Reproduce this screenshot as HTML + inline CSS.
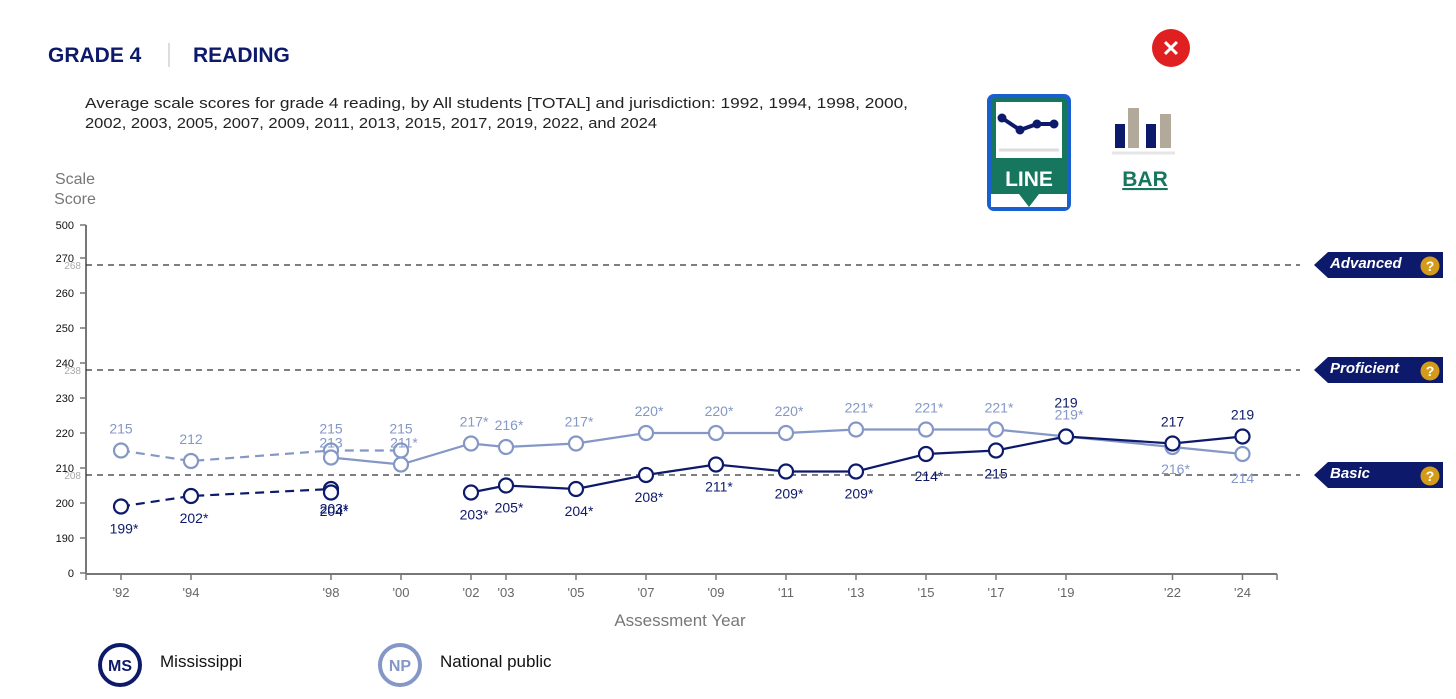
<!DOCTYPE html>
<html><head><meta charset="utf-8">
<style>
body{margin:0;width:1456px;height:699px;background:#fff;overflow:hidden;font-family:"Liberation Sans",sans-serif;}
svg{position:absolute;left:0;top:0}
</style></head>
<body>
<svg id="c" width="1456" height="699">
<text x="48" y="62" font-size="21" font-weight="bold" fill="#0d1a6b">GRADE 4</text>
<line x1="169" y1="43" x2="169" y2="67" stroke="#ddd" stroke-width="2"/>
<text x="193" y="62" font-size="21" font-weight="bold" fill="#0d1a6b">READING</text>
<text x="85" y="108" font-size="15" fill="#222" textLength="823" lengthAdjust="spacingAndGlyphs">Average scale scores for grade 4 reading, by All students [TOTAL] and jurisdiction: 1992, 1994, 1998, 2000,</text>
<text x="85" y="128" font-size="15" fill="#222" textLength="572" lengthAdjust="spacingAndGlyphs">2002, 2003, 2005, 2007, 2009, 2011, 2013, 2015, 2017, 2019, 2022, and 2024</text>
<g><circle cx="1171" cy="48" r="19" fill="#e02020"/><text x="1171" y="56" font-size="22" font-weight="bold" fill="#fff" text-anchor="middle">✕</text></g>
<g>
<rect x="987" y="94" width="84" height="117" rx="7" fill="#1a5fd0"/>
<rect x="991" y="98" width="76" height="109" rx="4" fill="#17765e"/>
<rect x="996" y="102" width="66" height="56" fill="#fff"/>
<line x1="999" y1="150" x2="1059" y2="150" stroke="#ddd" stroke-width="3"/>
<polyline points="1002,118 1020,130 1037,124 1054,124" fill="none" stroke="#0d1a6b" stroke-width="4"/>
<circle cx="1002" cy="118" r="4.5" fill="#0d1a6b"/><circle cx="1020" cy="130" r="4.5" fill="#0d1a6b"/><circle cx="1037" cy="124" r="4.5" fill="#0d1a6b"/><circle cx="1054" cy="124" r="4.5" fill="#0d1a6b"/>
<text x="1029" y="186" font-size="21" font-weight="bold" fill="#fff" text-anchor="middle">LINE</text>
<rect x="991" y="194" width="76" height="13" fill="#fff"/>
<polygon points="1019,194 1039,194 1029,207" fill="#17765e"/>
</g>
<g>
<rect x="1115" y="124" width="10" height="24" fill="#0d1a6b"/><rect x="1128" y="108" width="11" height="40" fill="#b3a99a"/>
<rect x="1146" y="124" width="10" height="24" fill="#0d1a6b"/><rect x="1160" y="114" width="11" height="34" fill="#b3a99a"/>
<line x1="1112" y1="153" x2="1175" y2="153" stroke="#e6e6e6" stroke-width="3"/>
<text x="1145" y="186" font-size="21" font-weight="bold" fill="#17765e" text-anchor="middle" text-decoration="underline">BAR</text>
</g>
<text x="75" y="184" font-size="16" fill="#777" text-anchor="middle">Scale</text>
<text x="75" y="204" font-size="16" fill="#777" text-anchor="middle">Score</text>
<text x="680" y="626" font-size="17" fill="#777" text-anchor="middle">Assessment Year</text>
<g><circle cx="120" cy="665" r="20" fill="#fff" stroke="#0d1a6b" stroke-width="4"/><text x="120" y="671" font-size="16" font-weight="bold" fill="#0d1a6b" text-anchor="middle">MS</text><text x="160" y="667" font-size="17" fill="#111">Mississippi</text></g>
<g><circle cx="400" cy="665" r="20" fill="#fff" stroke="#8497c6" stroke-width="4"/><text x="400" y="671" font-size="16" font-weight="bold" fill="#8497c6" text-anchor="middle">NP</text><text x="440" y="667" font-size="17" fill="#111">National public</text></g>
<g id="plot"></g>
</svg>
<script>
const years=[1992,1994,1998,2000,2002,2003,2005,2007,2009,2011,2013,2015,2017,2019,2022,2024];
const tickLabels=["'92","'94","'98","'00","'02","'03","'05","'07","'09","'11","'13","'15","'17","'19","'22","'24"];
const yTicks=[190,200,210,220,230,240,250,260,270];
const levels=[208,238,268];
const levelNames=["Basic","Proficient","Advanced"];
// accommodations not permitted (dashed)
const msDashYears=[1992,1994,1998];
const msDash=[199,202,204];
const npDashYears=[1992,1994,1998,2000];
const npDash=[215,212,215,215];
const msDashLab=["199*","202*","204*"];
const npDashLab=["215","212","215","215"];
// accommodations permitted (solid)
const msSolidYears=[1998,2002,2003,2005,2007,2009,2011,2013,2015,2017,2019,2022,2024];
const msSolid=[203,203,205,204,208,211,209,209,214,215,219,217,219];
const msSolidLab=["203*","203*","205*","204*","208*","211*","209*","209*","214*","215","219","217","219"];
const npSolidYears=[1998,2000,2002,2003,2005,2007,2009,2011,2013,2015,2017,2019,2022,2024];
const npSolid=[213,211,217,216,217,220,220,220,221,221,221,219,216,214];
const npSolidLab=["213","211*","217*","216*","217*","220*","220*","220*","221*","221*","221*","219*","216*","214"];

const NAVY="#0d1a6b",LIGHT="#8497c6";
const X=yr=>121+(yr-1992)*35.0+(yr>=2022?1.5:0);
const Y=v=>433-(v-220)*3.5;
const g=document.getElementById('plot');
const NS="http://www.w3.org/2000/svg";
function mk(t,a,p){const e=document.createElementNS(NS,t);for(const k in a)e.setAttribute(k,a[k]);(p||g).appendChild(e);return e;}
let ax=mk('line',{x1:86,y1:225,x2:86,y2:574,stroke:'#777','stroke-width':2});


let bx=mk('line',{x1:86,y1:574,x2:1277,y2:574,stroke:'#777','stroke-width':2});


function ytick(v,y){mk('line',{x1:80,y1:y,x2:86,y2:y,stroke:'#777','stroke-width':1.5});const t=mk('text',{x:74,y:y+4,'font-size':11,fill:'#111','text-anchor':'end'});t.textContent=v;

}
ytick(500,225);ytick(0,573);
yTicks.forEach(v=>ytick(v,Y(v)));
years.forEach((yr,i)=>{const x=X(yr);mk('line',{x1:x,y1:574,x2:x,y2:580,stroke:'#777','stroke-width':1.5});
const t=mk('text',{x:x,y:597,'font-size':13,fill:'#666','text-anchor':'middle'});t.textContent=tickLabels[i];

});
mk('line',{x1:86,y1:574,x2:86,y2:580,stroke:'#777','stroke-width':1.5});mk('line',{x1:1277,y1:574,x2:1277,y2:580,stroke:'#777','stroke-width':1.5});
levels.forEach((v,i)=>{const y=Y(v);
const l=mk('line',{x1:86,y1:y,x2:1300,y2:y,stroke:'#333','stroke-width':1.3,'stroke-dasharray':'6,5'});


const lt=mk('text',{x:81,y:y+4,'font-size':10,fill:'#aaa','text-anchor':'end'});lt.textContent=v;
const b=mk('g',{});


mk('polygon',{points:`1314,${y} 1328,${y-13} 1443,${y-13} 1443,${y+13} 1328,${y+13}`,fill:NAVY},b);
const t=mk('text',{x:1330,y:y+3,'font-size':15,'font-weight':'bold','font-style':'italic',fill:'#fff'},b);t.textContent=levelNames[i];
mk('circle',{cx:1430,cy:y+1,r:9.5,fill:'#d49a1a'},b);
const q=mk('text',{x:1430,y:y+6,'font-size':14,'font-weight':'bold',fill:'#fff','text-anchor':'middle'},b);q.textContent='?';
});
function series(ys,vs,labs,col,dash,name,pos,breakAfter){
let segs=[[]];
ys.forEach((yr,i)=>{segs[segs.length-1].push(X(yr)+','+Y(vs[i]));if(yr===breakAfter)segs.push([]);});
segs.forEach(s=>{if(s.length<2)return;
const pl=mk('polyline',{points:s.join(' '),fill:'none',stroke:col,'stroke-width':2.2,'stroke-dasharray':dash||'none'});

});
ys.forEach((yr,i)=>{const cx=X(yr),cy=Y(vs[i]);
const c=mk('circle',{cx:cx,cy:cy,r:7,fill:'#fff',stroke:col,'stroke-width':2.2});


const off=pos(i);
const t=mk('text',{x:cx+(labs[i].endsWith('*')?3:0),y:cy+off,'font-size':14,fill:col,'text-anchor':'middle'});t.textContent=labs[i];

});
}
series(npDashYears,npDash,npDashLab,LIGHT,'9,6','np-dashed',i=>-17);
series(msDashYears,msDash,msDashLab,NAVY,'9,6','ms-dashed',i=>27);
series(npSolidYears,npSolid,npSolidLab,LIGHT,null,'np-solid',i=>{const yr=npSolidYears[i];const j=msSolidYears.indexOf(yr);if(yr===2024)return 29;if(j>=0&&msSolid[j]>npSolid[i])return 27;if(j>=0&&msSolid[j]===npSolid[i])return -17;return yr===1998?-10:-17;},null);
series(msSolidYears,msSolid,msSolidLab,NAVY,null,'ms-solid',i=>{const yr=msSolidYears[i];const j=npSolidYears.indexOf(yr);if(j>=0&&msSolid[i]>=npSolid[j])return msSolid[i]===npSolid[j]?-29:-17;if(yr===2017)return 28;return yr===1998?21:27;},1998);
</script>
</body></html>
